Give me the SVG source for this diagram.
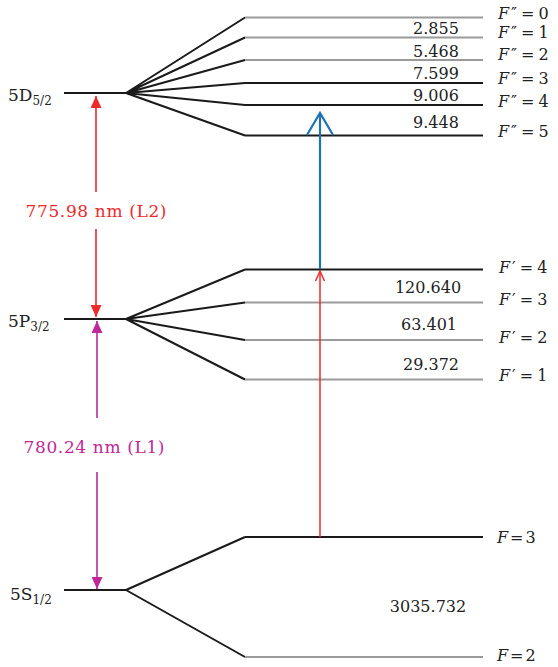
<svg xmlns="http://www.w3.org/2000/svg" width="558" height="667" viewBox="0 0 558 667">
<style>
text{font-family:"DejaVu Serif","Liberation Serif",serif;fill:#222}
.num{font-size:16px;text-anchor:middle}
.fl{font-size:16px}
.lv{font-size:17px}
.sub{font-size:12px}
.it{font-style:italic}
.lvl{stroke:#1a1a1a;stroke-width:2;fill:none}
.gry{stroke:#9a9a9a;stroke-width:2;fill:none}
.fan{stroke:#1a1a1a;stroke-width:2;fill:none}
</style>
<defs>
<marker id="hr" viewBox="0 0 12 11" refX="12" refY="5.5" markerWidth="12" markerHeight="11" markerUnits="userSpaceOnUse" orient="auto"><path d="M0,0 L12,5.5 L0,11 Z" fill="#ee2a2a"/></marker>
<marker id="hm" viewBox="0 0 12 11" refX="12" refY="5.5" markerWidth="12" markerHeight="11" markerUnits="userSpaceOnUse" orient="auto"><path d="M0,0 L12,5.5 L0,11 Z" fill="#c0289a"/></marker>
</defs>

<g id="level-5D">
<line class="lvl" x1="64" y1="93" x2="126" y2="93"/>
<text class="lv" x="8" y="101">5D<tspan class="sub" dy="4">5/2</tspan></text>
<path class="fan" d="M126,93 L245,17.5 M126,93 L245,37.5 M126,93 L245,60 M126,93 L245,83 M126,93 L245,105 M126,93 L245,135.5"/>
</g>
<g id="F2-0"><line class="gry" x1="245" y1="17.5" x2="483" y2="17.5"/><text class="fl" x="498" y="19"><tspan class="it">F</tspan><tspan dx="2">″</tspan><tspan dx="4">=</tspan><tspan dx="4">0</tspan></text></g>
<g id="F2-1"><line class="gry" x1="245" y1="37.5" x2="483" y2="37.5"/><text class="num" x="436" y="34">2.855</text><text class="fl" x="498" y="37.5"><tspan class="it">F</tspan><tspan dx="2">″</tspan><tspan dx="4">=</tspan><tspan dx="4">1</tspan></text></g>
<g id="F2-2"><line class="gry" x1="245" y1="60" x2="483" y2="60"/><text class="num" x="436" y="57">5.468</text><text class="fl" x="498" y="60"><tspan class="it">F</tspan><tspan dx="2">″</tspan><tspan dx="4">=</tspan><tspan dx="4">2</tspan></text></g>
<g id="F2-3"><line class="lvl" x1="245" y1="83" x2="483" y2="83"/><text class="num" x="436" y="79">7.599</text><text class="fl" x="498" y="84"><tspan class="it">F</tspan><tspan dx="2">″</tspan><tspan dx="4">=</tspan><tspan dx="4">3</tspan></text></g>
<g id="F2-4"><line class="lvl" x1="245" y1="105" x2="483" y2="105"/><text class="num" x="436" y="101">9.006</text><text class="fl" x="498" y="107"><tspan class="it">F</tspan><tspan dx="2">″</tspan><tspan dx="4">=</tspan><tspan dx="4">4</tspan></text></g>
<g id="F2-5"><line class="lvl" x1="245" y1="135.5" x2="483" y2="135.5"/><text class="num" x="436" y="128">9.448</text><text class="fl" x="498" y="137"><tspan class="it">F</tspan><tspan dx="2">″</tspan><tspan dx="4">=</tspan><tspan dx="4">5</tspan></text></g>

<g id="level-5P">
<line class="lvl" x1="64" y1="319" x2="126" y2="319"/>
<text class="lv" x="8" y="327">5P<tspan class="sub" dy="4">3/2</tspan></text>
<path class="fan" d="M126,319 L245,269.5 M126,319 L245,302.5 M126,319 L245,340 M126,319 L245,379.5"/>
</g>
<g id="F1-4"><line class="lvl" x1="245" y1="269.5" x2="483" y2="269.5"/><text class="fl" x="499" y="273"><tspan class="it">F</tspan><tspan dx="2">′</tspan><tspan dx="4">=</tspan><tspan dx="4">4</tspan></text></g>
<g id="F1-3"><line class="gry" x1="245" y1="302.5" x2="483" y2="302.5"/><text class="num" x="428" y="293">120.640</text><text class="fl" x="499" y="305"><tspan class="it">F</tspan><tspan dx="2">′</tspan><tspan dx="4">=</tspan><tspan dx="4">3</tspan></text></g>
<g id="F1-2"><line class="gry" x1="245" y1="340" x2="483" y2="340"/><text class="num" x="429" y="330">63.401</text><text class="fl" x="499" y="343"><tspan class="it">F</tspan><tspan dx="2">′</tspan><tspan dx="4">=</tspan><tspan dx="4">2</tspan></text></g>
<g id="F1-1"><line class="gry" x1="245" y1="379.5" x2="483" y2="379.5"/><text class="num" x="431" y="370">29.372</text><text class="fl" x="499" y="381"><tspan class="it">F</tspan><tspan dx="2">′</tspan><tspan dx="4">=</tspan><tspan dx="4">1</tspan></text></g>

<g id="level-5S">
<line class="lvl" x1="64" y1="590" x2="126" y2="590"/>
<text class="lv" x="10" y="600">5S<tspan class="sub" dy="4">1/2</tspan></text>
<path class="fan" d="M126,590 L245,537 M126,590 L245,657"/>
</g>
<g id="F-3"><line class="lvl" x1="245" y1="537" x2="483" y2="537"/><text class="fl" x="497" y="543"><tspan class="it">F</tspan><tspan dx="2">=</tspan><tspan dx="2">3</tspan></text></g>
<g id="F-2"><line class="gry" x1="245" y1="657" x2="483" y2="657"/><text class="num" x="428" y="612">3035.732</text><text class="fl" x="497" y="661"><tspan class="it">F</tspan><tspan dx="2">=</tspan><tspan dx="2">2</tspan></text></g>

<g id="connectors">
<line x1="96" y1="192" x2="96" y2="96" stroke="#ee2a2a" stroke-width="1.6" marker-end="url(#hr)"/>
<line x1="96" y1="229" x2="96" y2="317" stroke="#ee2a2a" stroke-width="1.6" marker-end="url(#hr)"/>
<text x="96" y="217" font-size="17" text-anchor="middle" textLength="141" style="fill:#ee2a2a">775.98 nm (L2)</text>
<line x1="97" y1="418" x2="97" y2="321" stroke="#c0289a" stroke-width="1.6" marker-end="url(#hm)"/>
<line x1="97" y1="472" x2="97" y2="589" stroke="#c0289a" stroke-width="1.6" marker-end="url(#hm)"/>
<text x="94" y="453" font-size="17" text-anchor="middle" textLength="141" style="fill:#c0289a">780.24 nm (L1)</text>
<line x1="320" y1="537" x2="320" y2="271" stroke="#ee2a2a" stroke-width="1.5"/>
<path d="M315.5,281 L320,271 L324.5,281" stroke="#ee2a2a" stroke-width="1.5" fill="none"/>
<line x1="320" y1="269" x2="320" y2="114" stroke="#1f72b8" stroke-width="2.2"/>
<path d="M307,135 L320,113 L333,135" stroke="#1f72b8" stroke-width="2.2" fill="none"/>
</g>
</svg>
